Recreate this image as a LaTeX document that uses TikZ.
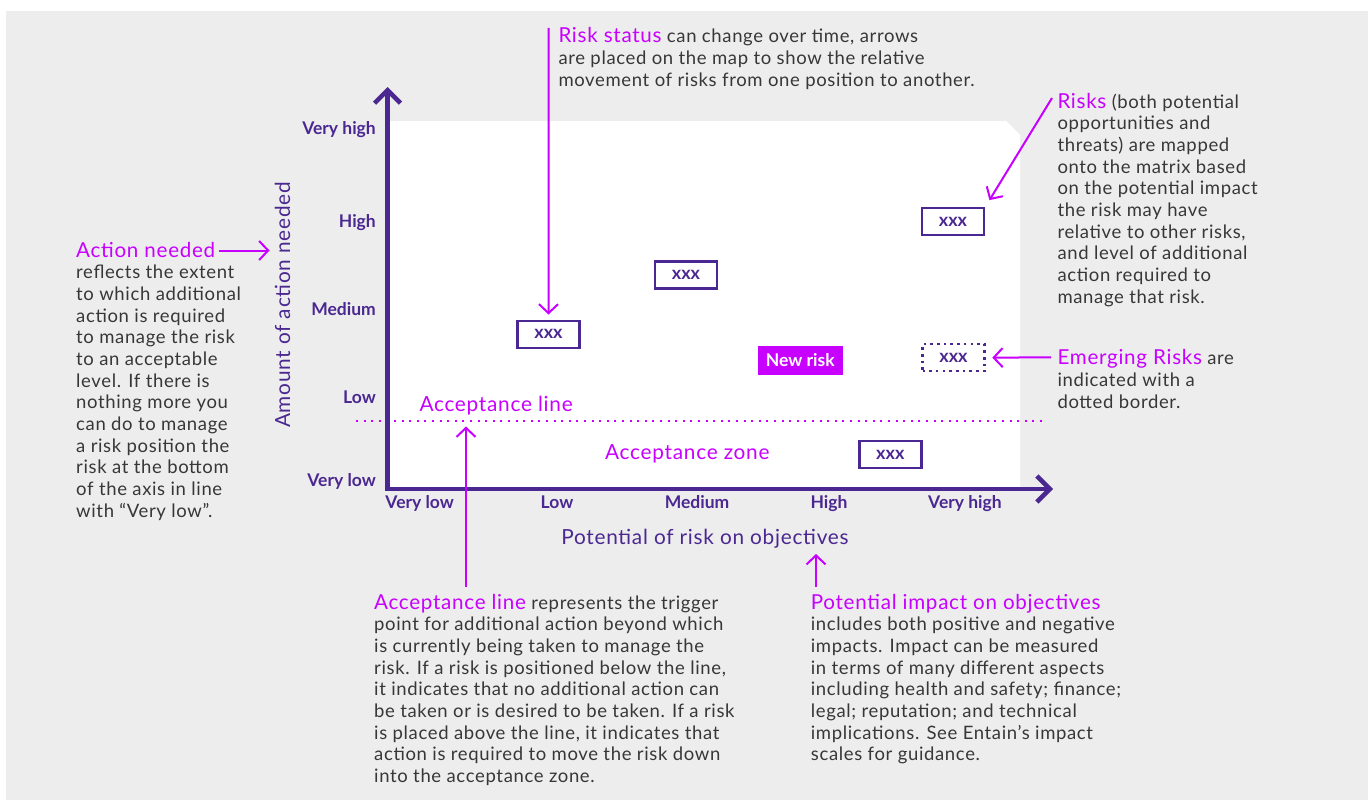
\documentclass[tikz,border=0pt]{standalone}
\usepackage{fontspec}
\setmainfont{Lato}
\newfontfamily\spaced{Lato}[Ligatures=TeX, LetterSpace=3.5]
\usepackage{xcolor}
\usetikzlibrary{arrows.meta,positioning}
\definecolor{bggray}{RGB}{237,237,237}
\definecolor{axispurple}{RGB}{75,40,145}
\definecolor{accent}{RGB}{200,0,255}
\definecolor{bodytext}{RGB}{55,55,55}
\tikzset{>={Straight Barb[length=9pt,width=19pt]}}
\newcommand{\hd}[1]{{\color{accent}\fontsize{20.6}{21.67}\selectfont #1}}

\begin{document}
\begin{tikzpicture}[x=1pt,y=-1pt,
                    axis/.style={line width=4.5pt, axispurple, -{Straight Barb[length=13pt,width=26pt]}},
                    callout/.style={line width=2pt, accent, ->},
                    accline/.style={line width=2pt, accent, dash pattern=on 2pt off 5.6pt},
                    riskbox/.style={draw=axispurple, line width=2.5pt, fill=white, minimum width=62pt, minimum height=27pt,
                                    inner sep=0pt, text=axispurple, font=\fontsize{18}{20}\selectfont\bfseries},
                    emerging/.style={riskbox, dash pattern=on 2.5pt off 4.2pt},
                    newrisk/.style={fill=accent, minimum width=85pt, minimum height=29pt, inner sep=0pt,
                                    text=white, font=\fontsize{17.5}{20}\selectfont\bfseries},
                    tick/.style={text=axispurple, inner sep=0pt, font=\fontsize{17.5}{20}\selectfont\bfseries},
                    axlabel/.style={text=axispurple, inner sep=0pt, font=\spaced\fontsize{20.8}{24}\selectfont},
                    zonelabel/.style={text=accent, inner sep=0pt, font=\spaced\fontsize{20.8}{24}\selectfont},
                    note/.style={text=bodytext, inner sep=0pt, align=left, anchor=north west,
                                 font=\spaced\fontsize{18.5}{21.67}\selectfont},
                   ]

\useasboundingbox (0,0) rectangle (1368,800);
\fill[white] (0,0) rectangle (1368,800);
\fill[bggray] (6,11) rectangle (1368,800);

% plotting field with the clipped corner
\fill[white] (387.5,121) -- (1006,121) -- (1020,135) -- (1020,489) -- (387.5,489) -- cycle;

\coordinate (O) at (387.5,489);
\coordinate (ytip) at (387.5,87);
\coordinate (xtip) at (1053,489);

\draw[accline] (356,420.5) -- (1042,420.5);

\draw[axis] (O) -- (ytip);
\draw[axis] ([xshift=-2.2pt]O) -- (xtip);

% levels of action
\node[tick, anchor=base east] (yvh) at (376,134.3) {Very high};
\node[tick, anchor=base east] (yh)  at (376,227) {High};
\node[tick, anchor=base east] (ym)  at (376,315) {Medium};
\node[tick, anchor=base east] (yl)  at (376,403.3) {Low};
\node[tick, anchor=base east] (yvl) at (376,486.7) {Very low};

% levels of impact
\node[tick, anchor=base] (xvl) at (419.7,508.3) {Very low};
\node[tick, anchor=base] (xl)  at (557,508.3) {Low};
\node[tick, anchor=base] (xm)  at (697,508.3) {Medium};
\node[tick, anchor=base] (xh)  at (829,508.3) {High};
\node[tick, anchor=base] (xvh) at (965,508.3) {Very high};

\node[axlabel, anchor=base, rotate=90] (ytitle) at (290,305) {Amount of action needed};
\node[axlabel, anchor=base] (xtitle) at (705,544) {Potential of risk on objectives};

\node[zonelabel, anchor=base west] (accname) at (419.3,411) {Acceptance line};
\node[zonelabel, anchor=base west] (acczone) at (605,459) {Acceptance zone};

% risks on the map
\node[riskbox] (r1) at (548.5,334.3) {xxx};
\node[riskbox] (r2) at (686,275.2) {xxx};
\node[riskbox] (r3) at (953,221.7) {xxx};
\node[emerging] (r4) at (953.5,357.7) {xxx};
\node[riskbox] (r5) at (890.3,454.7) {xxx};
\node[newrisk] (nr) at (800.3,360.3) {New risk};

% notes round the map
\node[note] (statusnote) at (558.3,27.5)
  {\hd{Risk status} can change over time, arrows\\
   are placed on the map to show the relative\\
   movement of risks from one position to another.};

\node[note] (risksnote) at (1057.3,92.7)
  {\hd{Risks} (both potential\\
   opportunities and\\
   threats) are mapped\\
   onto the matrix based\\
   on the potential impact\\
   the risk may have\\
   relative to other risks,\\
   and level of additional\\
   action required to\\
   manage that risk.};

\node[note] (emergnote) at (1057.3,349.3)
  {\hd{Emerging Risks} are\\
   indicated with a\\
   dotted border.};

\node[note] (actionnote) at (76,241.7)
  {\hd{Action needed}\\
   reflects the extent\\
   to which additional\\
   action is required\\
   to manage the risk\\
   to an acceptable\\
   level. If there is\\
   nothing more you\\
   can do to manage\\
   a risk position the\\
   risk at the bottom\\
   of the axis in line\\
   with ``Very low''.};

\node[note] (accnote) at (374,593.8)
  {\hd{Acceptance line} represents the trigger\\
   point for additional action beyond which\\
   is currently being taken to manage the\\
   risk. If a risk is positioned below the line,\\
   it indicates that no additional action can\\
   be taken or is desired to be taken. If a risk\\
   is placed above the line, it indicates that\\
   action is required to move the risk down\\
   into the acceptance zone.};

\node[note] (impactnote) at (810.7,593.8)
  {\hd{Potential impact on objectives}\\
   includes both positive and negative\\
   impacts. Impact can be measured\\
   in terms of many different aspects\\
   including health and safety; finance;\\
   legal; reputation; and technical\\
   implications. See Entain's impact\\
   scales for guidance.};

% pointers
\coordinate (statustail) at (548.7,28);
\coordinate (riskstail) at (1052,98);
\coordinate (emergtail) at (1051,357.3);
\coordinate (actiontail) at (219,250.5);
\coordinate (actionhead) at (269.5,250.5);
\coordinate (acctail) at (466,587);
\coordinate (acchead) at (466,426.5);
\coordinate (impacttail) at (816,587);
\coordinate (impacthead) at (816,554);

\draw[callout, shorten >=5pt] (statustail) -- (r1.north);
\draw[callout, shorten >=8pt] (riskstail) -- (r3.north east);
\draw[callout, shorten >=6.5pt] (emergtail) -- (r4.east);
\draw[callout] (actiontail) -- (actionhead);
\draw[callout] (acctail) -- (acchead);
\draw[callout] (impacttail) -- (impacthead);

\end{tikzpicture}
\end{document}
